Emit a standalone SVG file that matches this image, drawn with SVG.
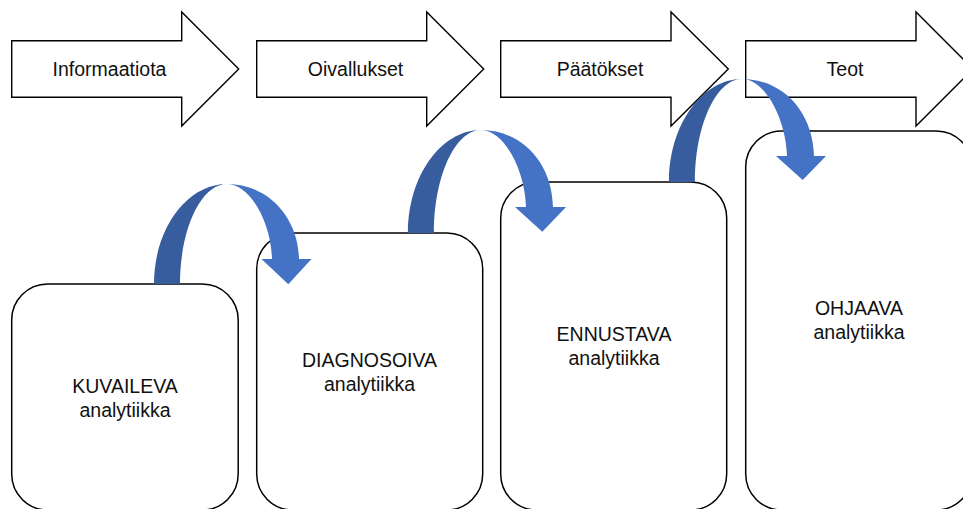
<svg xmlns="http://www.w3.org/2000/svg" width="963" height="509" viewBox="0 0 963 509">
  <style>
    .blk { fill: #ffffff; stroke: #000000; stroke-width: 1.4; stroke-linejoin: miter; }
    .box { fill: #ffffff; stroke: #000000; stroke-width: 1.5; }
    .lbl { font-family: "Liberation Sans", Arial, sans-serif; font-size: 19.5px; fill: #111111; text-anchor: middle; }
    .dark { fill: #385D9E; }
    .light { fill: #4472C4; }
  </style>
  <rect x="0" y="0" width="963" height="509" fill="#ffffff"/>

  <g id="stage-informaatiota">
    <polygon class="blk" points="11.7,40.7 181.7,40.7 181.7,12 238.7,69 181.7,126 181.7,97.3 11.7,97.3"/>
    <text class="lbl" x="109.5" y="76">Informaatiota</text>
  </g>
  <g id="stage-oivallukset">
    <polygon class="blk" points="256.7,40.7 426.7,40.7 426.7,12 483.7,69 426.7,126 426.7,97.3 256.7,97.3"/>
    <text class="lbl" x="355.5" y="76">Oivallukset</text>
  </g>
  <g id="stage-paatokset">
    <polygon class="blk" points="500.7,40.7 671,40.7 671,12 728.3,69 671,126 671,97.3 500.7,97.3"/>
    <text class="lbl" x="600" y="76">Päätökset</text>
  </g>
  <g id="stage-teot">
    <polygon class="blk" points="745.7,40.7 916,40.7 916,12 973,69 916,126 916,97.3 745.7,97.3"/>
    <text class="lbl" x="845" y="76">Teot</text>
  </g>

  <g id="box-kuvaileva">
    <rect class="box" x="11.7" y="284" width="226.5" height="226" rx="36" ry="36"/>
    <text class="lbl" x="125" y="393">KUVAILEVA</text>
    <text class="lbl" x="125" y="417">analytiikka</text>
  </g>
  <g id="box-diagnosoiva">
    <rect class="box" x="256.7" y="233" width="226" height="277" rx="36" ry="36"/>
    <text class="lbl" x="369.5" y="367">DIAGNOSOIVA</text>
    <text class="lbl" x="369.5" y="391">analytiikka</text>
  </g>
  <g id="box-ennustava">
    <rect class="box" x="500.7" y="182" width="226" height="328" rx="36" ry="36"/>
    <text class="lbl" x="614" y="341">ENNUSTAVA</text>
    <text class="lbl" x="614" y="365">analytiikka</text>
  </g>
  <g id="box-ohjaava">
    <rect class="box" x="745.7" y="131" width="226.5" height="379" rx="36" ry="36"/>
    <text class="lbl" x="859" y="315">OHJAAVA</text>
    <text class="lbl" x="859" y="339">analytiikka</text>
  </g>

  <g id="connectors">
    <g id="curve-1">
      <path class="dark" d="M154,284 C154,229 186.7,184 227,184 C201,184 180,229 180,284 Z"/>
      <path class="light" d="M227,184 C267,184 298,216 299,259 L311.5,259 L288.3,284.3 L261.5,259 L272,259 C271,222 250,184 227,184 Z"/>
    </g>
    <g id="curve-2">
      <path class="dark" d="M408,233 C408,176.5 440.7,130 481,130 C455,130 434,176.5 434,233 Z"/>
      <path class="light" d="M481,130 C521,130 552,162 553,207 L566,207 L542.3,231.7 L515,207 L526,207 C525,170 504,130 481,130 Z"/>
    </g>
    <g id="curve-3">
      <path class="dark" d="M669,182 C669,125.5 701.7,79 742,79 C716,79 695,125.5 695,182 Z"/>
      <path class="light" d="M742,79 C782,79 813,111 814,156 L826,156 L802.7,180 L776,156 L787,156 C786,119 765,79 742,79 Z"/>
    </g>
  </g>
</svg>
